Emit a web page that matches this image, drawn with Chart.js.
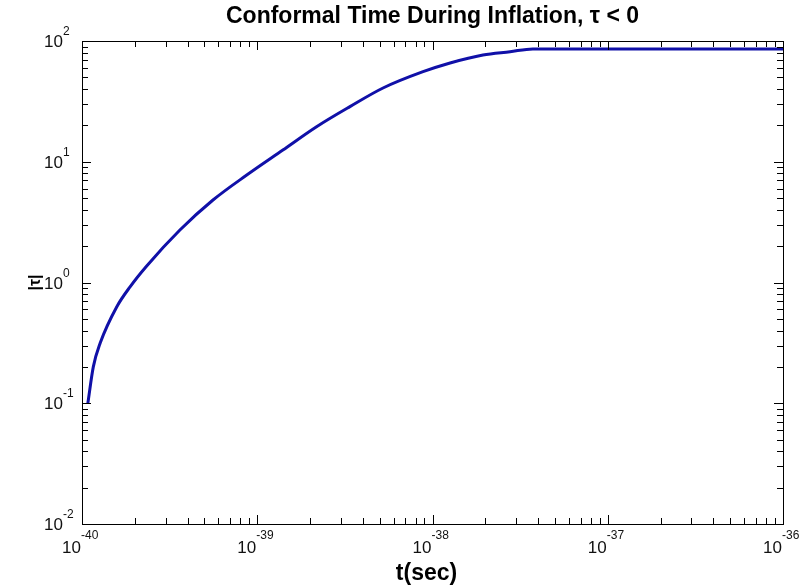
<!DOCTYPE html>
<html>
<head>
<meta charset="utf-8">
<title>Conformal Time During Inflation</title>
<script src="https://cdn.jsdelivr.net/npm/chart.js@4.4.1/dist/chart.umd.min.js"></script>
<style>
  body { margin: 0; background: #fff; }
  #wrap { width: 808px; height: 588px; }
</style>
</head>
<body>
<div id="wrap"><canvas id="myChart" width="808" height="588"></canvas></div>
<script>
const titleText = "Conformal Time During Inflation, \u03c4 < 0";
const xLabel = "t(sec)";
const yLabel = "|\u03c4|";

// time in seconds and |tau|
const timeSec = [1.08e-40, 1.16e-40, 1.27e-40, 1.58e-40, 1.88e-40, 2.34e-40, 3.62e-40, 5.59e-40,
    8.71e-40, 1.4e-39, 2.18e-39, 3.38e-39, 5.22e-39, 8.83e-39, 1.26e-38, 1.94e-38, 2.77e-38,
    3.74e-38, 1e-37, 1e-36];
const tauAbs = [0.1, 0.2, 0.315, 0.63, 0.92, 1.37, 2.72, 4.82, 7.76, 12.5, 19.5, 28.6, 40.8,
    55.7, 65.8, 76.6, 81.5, 85.9, 86, 86];

const xExponents = [-40, -39, -38, -37, -36];
const yExponents = [-2, -1, 0, 1, 2];

const font = '"Liberation Sans", Arial, sans-serif';

const points = timeSec.map(function (t, i) {
    return { x: t, y: tauAbs[i] };
});

// matlab style box, inward ticks and 10^n labels
const matlabAxes = {
    id: "matlabAxes",
    afterDraw(chart) {
        const ctx = chart.ctx;
        const area = chart.chartArea;
        const xs = chart.scales.x;
        const ys = chart.scales.y;
        ctx.save();
        ctx.strokeStyle = "#000";
        ctx.lineWidth = 1;
        ctx.strokeRect(area.left + 0.5, area.top + 0.5, area.right - area.left, area.bottom - area.top);

        const tickLines = function (exps, scale, horizontal) {
            for (let e = exps[0]; e <= exps[exps.length - 1]; e++) {
                for (let m = 1; m <= 9; m++) {
                    if (e === exps[exps.length - 1] && m > 1) break;
                    const p = Math.round(scale.getPixelForValue(m * Math.pow(10, e))) + 0.5;
                    const len = m === 1 ? 9 : 6;
                    ctx.beginPath();
                    if (horizontal) {
                        ctx.moveTo(p, area.bottom);
                        ctx.lineTo(p, area.bottom - len);
                        ctx.moveTo(p, area.top);
                        ctx.lineTo(p, area.top + len);
                    } else {
                        ctx.moveTo(area.left, p);
                        ctx.lineTo(area.left + len, p);
                        ctx.moveTo(area.right, p);
                        ctx.lineTo(area.right - len, p);
                    }
                    ctx.stroke();
                }
            }
        };
        tickLines(xExponents, xs, true);
        tickLines(yExponents, ys, false);

        ctx.fillStyle = "#111";
        xExponents.forEach(function (e) {
            const px = xs.getPixelForValue(Math.pow(10, e));
            ctx.font = "17px " + font;
            ctx.textAlign = "right";
            ctx.textBaseline = "alphabetic";
            ctx.fillText("10", px - 1, area.bottom + 29);
            ctx.font = "12px " + font;
            ctx.textAlign = "left";
            ctx.fillText(String(e), px - 1, area.bottom + 15);
        });
        yExponents.forEach(function (e) {
            const py = ys.getPixelForValue(Math.pow(10, e));
            ctx.font = "17px " + font;
            ctx.textAlign = "right";
            ctx.textBaseline = "alphabetic";
            ctx.fillText("10", area.left - 19, py + 6);
            ctx.font = "12px " + font;
            ctx.textAlign = "left";
            ctx.fillText(String(e), area.left - 19, py - 6);
        });

        ctx.fillStyle = "#000";
        ctx.textAlign = "center";
        ctx.textBaseline = "middle";
        const cx = (area.left + area.right) / 2;
        ctx.font = "bold 23px " + font;
        ctx.fillText(titleText, cx, 17);
        ctx.fillText(xLabel, cx - 6, area.bottom + 50);
        ctx.save();
        ctx.translate(36, (area.top + area.bottom) / 2);
        ctx.rotate(-Math.PI / 2);
        ctx.font = "bold 16px " + font;
        ctx.fillText(yLabel, 0, 0);
        ctx.restore();
        ctx.restore();
    }
};

const ctx = document.querySelector("#myChart");

new Chart(ctx, {
    type: "line",
    data: {
        datasets: [
            {
                label: "|tau|",
                data: points,
                borderColor: "#1010a8",
                borderWidth: 3,
                pointRadius: 0,
                fill: false,
                cubicInterpolationMode: "monotone"
            }
        ]
    },
    options: {
        responsive: false,
        animation: false,
        layout: {
            padding: { left: 82, right: 25, top: 41, bottom: 64 }
        },
        plugins: {
            legend: { display: false },
            tooltip: { enabled: false }
        },
        scales: {
            x: {
                type: "logarithmic",
                min: 1e-40,
                max: 1e-36,
                ticks: { display: false },
                grid: { display: false, drawTicks: false },
                border: { display: false }
            },
            y: {
                type: "logarithmic",
                min: 1e-2,
                max: 1e2,
                ticks: { display: false },
                grid: { display: false, drawTicks: false },
                border: { display: false }
            }
        }
    },
    plugins: [matlabAxes]
});
</script>
</body>
</html>
